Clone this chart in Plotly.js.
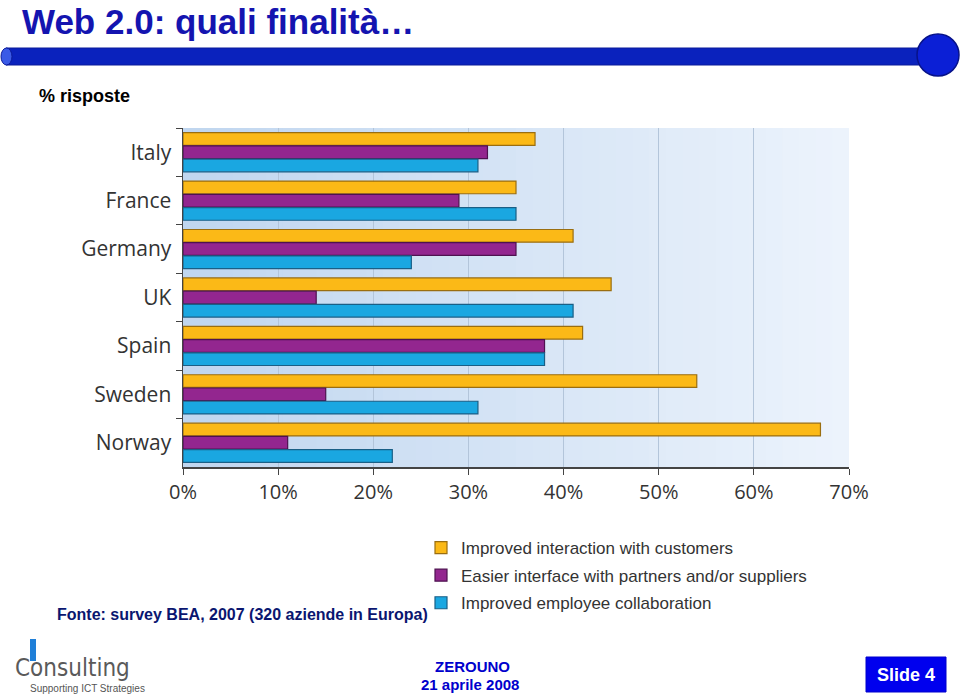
<!DOCTYPE html>
<html>
<head>
<meta charset="utf-8">
<script src="https://cdn.plot.ly/plotly-3.0.1.min.js"></script>
<style>
  html, body { margin: 0; padding: 0; background: #ffffff; }
  #chart { width: 960px; height: 697px; }
</style>
</head>
<body>
<div id="chart"></div>
<script>
// ---- data ----
var countries = ["Italy", "France", "Germany", "UK", "Spain", "Sweden", "Norway"];
var seriesNames = [
  "Improved interaction with customers",
  "Easier interface with partners and/or suppliers",
  "Improved employee collaboration"
];
var customers = [37, 35, 41, 45, 42, 54, 67];
var partners  = [32, 29, 35, 14, 38, 15, 11];
var employees = [31, 35, 24, 41, 38, 31, 22];
var xTickVals = [0, 10, 20, 30, 40, 50, 60, 70];
var xTickText = ["0%", "10%", "20%", "30%", "40%", "50%", "60%", "70%"];

// ---- plot-area geometry (pixels) ----
var L = 183, R = 849, T = 128, B = 467;
var W = R - L, H = B - T;
function PX(px) { return (px - L) / W; }
function PY(py) { return (B - py) / H; }

// ---- styling ----
var fills = ["#fbb917", "#93268f", "#1aa7e1"];
var edges = ["#9a6e10", "#4e1250", "#1a5f86"];
var values = [customers, partners, employees];

var traces = values.map(function (v, i) {
  return {
    type: "bar",
    orientation: "h",
    name: seriesNames[i],
    legendgroup: "g" + i,
    x: v,
    y: countries,
    marker: { color: fills[i], line: { color: edges[i], width: 1.2 } },
    hoverinfo: "x+y"
  };
});

// gradient background for plot area (stripes)
var shapes = [];
var nStripes = 40;
function lerp(a, b, t) { return Math.round(a + (b - a) * t); }
var c0 = [192, 214, 239], c1 = [236, 243, 252];
for (var s = 0; s < nStripes; s++) {
  var t = s / (nStripes - 1);
  var col = "rgb(" + lerp(c0[0], c1[0], t) + "," + lerp(c0[1], c1[1], t) + "," + lerp(c0[2], c1[2], t) + ")";
  shapes.push({
    type: "rect", xref: "paper", yref: "paper", layer: "below",
    x0: s / nStripes, x1: Math.min(1, (s + 1) / nStripes + 0.002), y0: 0, y1: 1,
    fillcolor: col, line: { width: 0 }
  });
}

// slide decoration: blue rod with rounded left end and ball at right
shapes.push({
  type: "rect", xref: "paper", yref: "paper", layer: "above",
  x0: PX(6), x1: PX(922), y0: PY(65), y1: PY(48),
  fillcolor: "#0a22bd", line: { color: "#0a1a9a", width: 1 }
});
shapes.push({
  type: "circle", xref: "paper", yref: "paper", layer: "above",
  x0: PX(1), x1: PX(12), y0: PY(65), y1: PY(48),
  fillcolor: "#3a5ae6", line: { color: "#0a1a9a", width: 1 }
});
shapes.push({
  type: "circle", xref: "paper", yref: "paper", layer: "above",
  x0: PX(917), x1: PX(959), y0: PY(76), y1: PY(34),
  fillcolor: "#0b1fd6", line: { color: "#07128a", width: 1.5 }
});
// Slide box
shapes.push({
  type: "rect", xref: "paper", yref: "paper", layer: "above",
  x0: PX(866), x1: PX(946), y0: PY(692), y1: PY(657),
  fillcolor: "#0000ee", line: { color: "#0000cc", width: 1 }
});
// Consulting logo blue bar
shapes.push({
  type: "rect", xref: "paper", yref: "paper", layer: "above",
  x0: PX(30), x1: PX(36), y0: PY(661), y1: PY(639),
  fillcolor: "#1f7fd8", line: { width: 0 }
});

function ann(text, px, py, xanchor, font) {
  return { text: text, x: PX(px), y: PY(py), xref: "paper", yref: "paper",
           xanchor: xanchor, yanchor: "middle", showarrow: false, font: font };
}
var annotations = [
  ann("Web 2.0: quali finalità…", 20, 21, "left",
      { family: "Liberation Sans Narrow, Arial Narrow, Arial", size: 35, color: "#1414b0", weight: "bold" }),
  ann("% risposte", 37, 96, "left",
      { family: "Liberation Sans, Arial", size: 18, color: "#000000", weight: "bold" }),
  ann("Fonte: survey BEA, 2007 (320 aziende in Europa)", 55, 614, "left",
      { family: "Liberation Sans Narrow, Arial Narrow, Arial", size: 16, color: "#0a1670", weight: "bold" }),
  ann("ZEROUNO", 472, 666, "center",
      { family: "Liberation Sans Narrow, Arial", size: 15, color: "#0000cc", weight: "bold" }),
  ann("21 aprile 2008", 470, 684, "center",
      { family: "Liberation Sans Narrow, Arial", size: 15, color: "#0000cc", weight: "bold" }),
  ann("Slide 4", 906, 675, "center",
      { family: "Liberation Sans Narrow, Arial", size: 18, color: "#ffffff", weight: "bold" }),
  ann("Consulting", 13, 668, "left",
      { family: "DejaVu Sans Condensed, DejaVu Sans, Arial", size: 24, color: "#5a5a5a" }),
  ann("Supporting ICT Strategies", 28, 688, "left",
      { family: "Liberation Sans Narrow, Arial", size: 10, color: "#555555" })
];

var layout = {
  width: 960, height: 697,
  margin: { l: L, r: 960 - R, t: T, b: 697 - B, pad: 0, autoexpand: false },
  paper_bgcolor: "#ffffff",
  plot_bgcolor: "rgba(0,0,0,0)",
  barmode: "group",
  bargap: 0.18,
  bargroupgap: 0.04,
  font: { family: "Open Sans, Noto Sans, sans-serif", color: "#333333" },
  xaxis: {
    range: [0, 70], tickvals: xTickVals, ticktext: xTickText, tickangle: 0,
    showgrid: true, gridcolor: "#b3c5da", gridwidth: 1,
    zeroline: false, showline: true, linecolor: "#444444", linewidth: 1.5,
    ticks: "outside", ticklen: 6, tickcolor: "#444444",
    tickfont: { size: 20, color: "#333333" }, automargin: false
  },
  yaxis: {
    categoryorder: "array", categoryarray: countries, autorange: "reversed",
    showline: true, linecolor: "#444444", linewidth: 1.5,
    ticks: "outside", ticklen: 6, tickcolor: "#444444", tickson: "boundaries",
    showgrid: false, zeroline: false, automargin: false,
    tickfont: { size: 21, color: "#333333" }, ticklabelstandoff: 6
  },
  showlegend: true,
  legend: {
    xref: "paper", yref: "paper",
    x: PX(421), y: PY(530), xanchor: "left", yanchor: "top",
    bgcolor: "rgba(0,0,0,0)",
    font: { family: "Liberation Sans, Arial", size: 17, color: "#333333" },
    traceorder: "grouped", tracegroupgap: 2.5
  },
  shapes: shapes,
  annotations: annotations
};

Plotly.newPlot("chart", traces, layout, { displayModeBar: false, staticPlot: true });
</script>
</body>
</html>
